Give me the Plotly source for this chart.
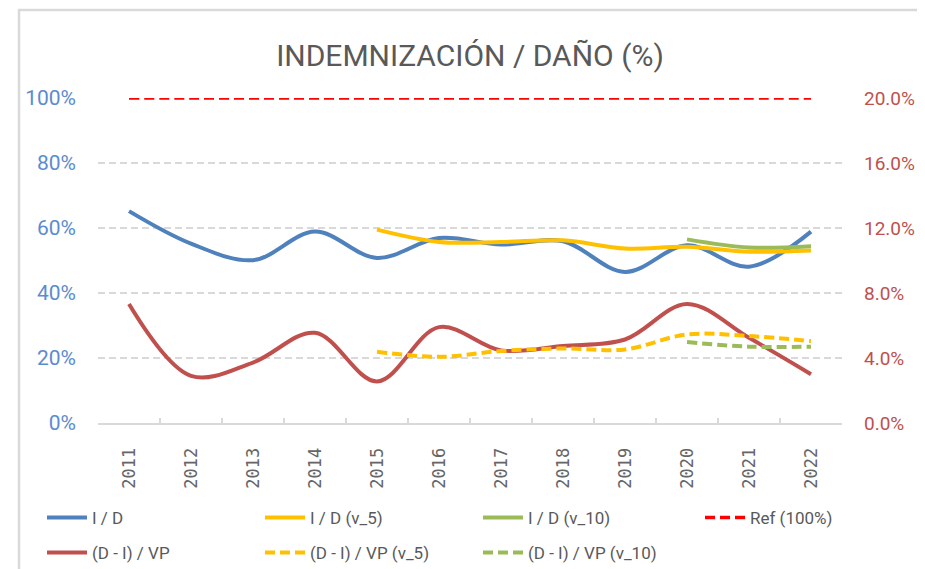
import plotly.graph_objects as go

years = ["2011", "2012", "2013", "2014", "2015", "2016", "2017", "2018", "2019", "2020", "2021", "2022"]

# Left axis (I / D ratios)
i_d = [0.652, 0.552, 0.501, 0.589, 0.508, 0.569, 0.549, 0.559, 0.465, 0.547, 0.481, 0.589]
i_d_v5 = [None, None, None, None, 0.595, 0.557, 0.557, 0.562, 0.537, 0.542, 0.527, 0.531]
i_d_v10 = [None, None, None, None, None, None, None, None, None, 0.565, 0.540, 0.544]
ref_100 = [1.0] * 12

# Right axis ((D - I) / VP)
d_i_vp = [0.0732, 0.0290, 0.0372, 0.0555, 0.0256, 0.0590, 0.0447, 0.0474, 0.0514, 0.0732, 0.0524, 0.0300]
d_i_vp_v5 = [None, None, None, None, 0.0439, 0.0407, 0.0443, 0.0459, 0.0453, 0.0545, 0.0535, 0.0504]
d_i_vp_v10 = [None, None, None, None, None, None, None, None, None, 0.0498, 0.0470, 0.0470]

left_ticks = [0, 0.2, 0.4, 0.6, 0.8, 1.0]
right_ticks = [0, 0.04, 0.08, 0.12, 0.16, 0.20]

BLUE = "#4F81BD"
RED = "#C0504D"
YEL = "#FFC000"
GRN = "#9BBB59"
REF = "#FF0000"
TXT = "#595959"
FONT = "Roboto, sans-serif"

# the page body adds an 8px margin, so the figure is 8px smaller than the window
OFF = 8
W, H = 925 - OFF, 569 - OFF
ML, MR, MT, MB = 98 - OFF, 83, 98 - OFF, 146
PW = W - ML - MR
PH = H - MT - MB


def px_x(p):
    return (p - OFF - ML) / PW


def px_y(p):
    return (H - MB - (p - OFF)) / PH


fig = go.Figure()

common = dict(x=years, mode="lines", line_shape="spline")

fig.add_trace(go.Scatter(y=i_d, name="I / D", yaxis="y", legend="legend",
                         line=dict(color=BLUE, width=4), **common))
fig.add_trace(go.Scatter(y=i_d_v5, name="I / D (v_5)", yaxis="y", legend="legend",
                         line=dict(color=YEL, width=4), **common))
fig.add_trace(go.Scatter(y=i_d_v10, name="I / D (v_10)", yaxis="y", legend="legend",
                         line=dict(color=GRN, width=4), **common))
fig.add_trace(go.Scatter(y=ref_100, name="Ref (100%)", yaxis="y", legend="legend3",
                         line=dict(color=REF, width=3.5, dash="10px,5px"), **common))
fig.add_trace(go.Scatter(y=d_i_vp, name="(D - I) / VP", yaxis="y2", legend="legend2",
                         line=dict(color=RED, width=4), **common))
fig.add_trace(go.Scatter(y=d_i_vp_v5, name="(D - I) / VP (v_5)", yaxis="y2", legend="legend2",
                         line=dict(color=YEL, width=4, dash="10px,5px"), **common))
fig.add_trace(go.Scatter(y=d_i_vp_v10, name="(D - I) / VP (v_10)", yaxis="y2", legend="legend2",
                         line=dict(color=GRN, width=4, dash="10px,5px"), **common))

legend_common = dict(orientation="h", entrywidth=163, entrywidthmode="pixels",
                     font=dict(family=FONT, size=17, color=TXT),
                     xref="container", xanchor="left",
                     yref="container", yanchor="middle",
                     bgcolor="rgba(0,0,0,0)", itemwidth=40)

fig.update_layout(
    width=W, height=H,
    margin=dict(l=ML, r=MR, t=MT, b=MB, autoexpand=False),
    paper_bgcolor="white", plot_bgcolor="white",
    title=dict(text="INDEMNIZACIÓN / DAÑO (%)", x=0.5, xref="paper", xanchor="center",
               y=1 - (55 - OFF) / H, yref="container", yanchor="middle",
               font=dict(family=FONT, size=30, color=TXT)),
    xaxis=dict(type="category", range=[-0.5, 11.5], tickangle=-90, tickson="boundaries",
               ticks="inside", ticklen=5, tickcolor="#D9D9D9", tickwidth=2, showline=True,
               linecolor="#D9D9D9", linewidth=2, showgrid=False, ticklabelstandoff=16,
               tickfont=dict(family="DejaVu Sans Mono, monospace", size=17, color="#666666")),
    yaxis=dict(range=[0, 1.0], tickvals=left_ticks, tickformat=".0%",
               showgrid=True, gridcolor="#D9D9D9", gridwidth=2, griddash="7px,4px",
               zeroline=False, showline=False, ticks="", ticklabelstandoff=21,
               tickfont=dict(family=FONT, size=21, color="#5B8BD0")),
    yaxis2=dict(range=[0, 0.20], tickvals=right_ticks, tickformat=".1%",
                overlaying="y", side="right", showgrid=False, zeroline=False,
                showline=False, ticks="", ticklabelstandoff=21,
                tickfont=dict(family=FONT, size=19, color=RED)),
    legend=dict(y=1 - (518 - OFF) / H, x=(42 - OFF) / W, **legend_common),
    legend3=dict(y=1 - (518 - OFF) / H, x=(700 - OFF) / W, **legend_common),
    legend2=dict(y=1 - (553 - OFF) / H, x=(42 - OFF) / W, **legend_common),
    shapes=[dict(type="rect", xref="paper", yref="paper",
                 x0=px_x(19), x1=px_x(940), y0=px_y(585), y1=px_y(10),
                 line=dict(color="#D9D9D9", width=2.5), layer="below")],
)

fig.write_html("out.html")
